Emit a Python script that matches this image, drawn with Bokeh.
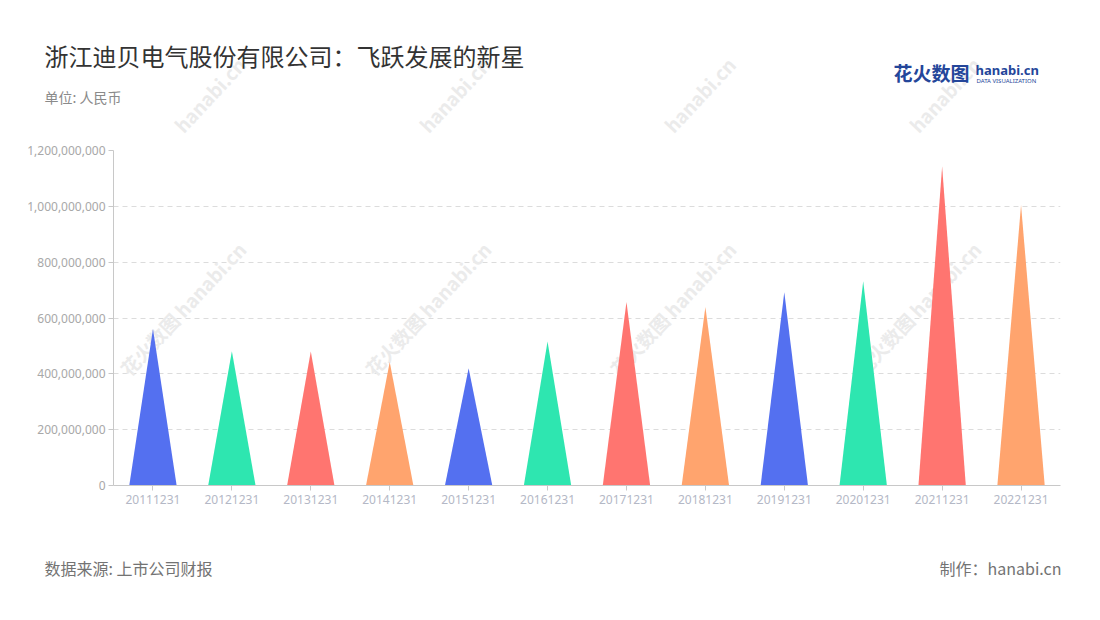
from bokeh.plotting import figure
from bokeh.layouts import column, row
from bokeh.models import Label, FixedTicker, NumeralTickFormatter, Range1d
from bokeh.embed import file_html
from bokeh.resources import INLINE

categories = ["20111231", "20121231", "20131231", "20141231", "20151231", "20161231",
              "20171231", "20181231", "20191231", "20201231", "20211231", "20221231"]
values = [561000000, 481000000, 480000000, 442000000, 420000000, 516000000,
          657000000, 639000000, 692000000, 732000000, 1143000000, 1005000000]
palette = ["#5470F0", "#2EE6B0", "#FF7570", "#FFA46E"]
y_ticks = [0, 200000000, 400000000, 600000000, 800000000, 1000000000, 1200000000]

title_text = "浙江迪贝电气股份有限公司：飞跃发展的新星"
unit_text = "单位: 人民币"
source_text = "数据来源: 上市公司财报"
maker_text = "制作：hanabi.cn"

W = 1100
HEAD_H, MAIN_H, FOOT_H = 142, 378, 100
CJK = "Noto Sans CJK SC"
WM_COLOR = "#ebebeb"
wm_x = [182, 427, 672, 917]


def blank_fig(h, top):
    f = figure(width=W, height=h, output_backend="svg", toolbar_location=None,
               x_range=Range1d(0, W), y_range=Range1d(top + h, top),
               x_axis_type=None, y_axis_type=None, min_border=0)
    f.outline_line_color = None
    f.grid.grid_line_color = None
    return f


def add_wm(f, x, y, text, units="data"):
    f.add_layout(Label(x=x, y=y, x_units=units, y_units=units,
                       text=text, angle=47, angle_units="deg",
                       text_align="center", text_baseline="middle",
                       text_font=CJK, text_font_size="19px", text_font_style="bold",
                       text_color=WM_COLOR, level="underlay"))


def add_text(f, x, y, text, size, color, align="left", font=CJK, style="normal"):
    f.add_layout(Label(x=x, y=y, text=text, text_align=align, text_baseline="middle",
                       text_font=font, text_font_size=size, text_color=color,
                       text_font_style=style))


# ---------- header ----------
head = blank_fig(HEAD_H, 0)
for wx in wm_x:
    add_wm(head, wx + 27, 94, "hanabi.cn")
add_text(head, 44, 55, title_text, "24px", "#333333")
add_text(head, 44, 96, unit_text, "14px", "#8a8a8a")
add_text(head, 893, 72, "花火数图", "19px", "#24469A", style="bold")
add_text(head, 975, 69, "hanabi.cn", "13px", "#24469A", font="Noto Sans", style="bold")
add_text(head, 976, 80, "DATA VISUALIZATION", "6px", "#24469A", font="Noto Sans")

# ---------- main chart ----------
FR_L, FR_T, FR_R, FR_B = 113, 150, 1060, 485
p = figure(width=W, height=MAIN_H, output_backend="svg", toolbar_location=None,
           x_range=Range1d(0, len(categories)), y_range=Range1d(0, 1200000000),
           min_border_left=FR_L, min_border_right=W - FR_R,
           min_border_top=FR_T - HEAD_H, min_border_bottom=HEAD_H + MAIN_H - FR_B)
p.outline_line_color = None
for wx in wm_x:
    add_wm(p, wx - FR_L, FR_B - 308, "花火数图 hanabi.cn", units="screen")

xs, ys, cols = [], [], []
half = 0.3
for i, v in enumerate(values):
    c = i + 0.5
    xs.append([c - half, c, c + half])
    ys.append([0, v, 0])
    cols.append(palette[i % len(palette)])
p.patches(xs=xs, ys=ys, fill_color=cols, line_color=None)

p.xaxis.ticker = FixedTicker(ticks=[i + 0.5 for i in range(len(categories))])
p.xaxis.major_label_overrides = {i + 0.5: c for i, c in enumerate(categories)}
p.xaxis.minor_tick_line_color = None
p.xaxis.axis_line_color = "#c8c8c8"
p.xaxis.major_tick_line_color = "#c8c8c8"
p.xaxis.major_tick_out = 5
p.xaxis.major_tick_in = 0
p.xaxis.major_label_text_color = "#b4b8c6"
p.xaxis.major_label_text_font = "Noto Sans"
p.xaxis.major_label_text_font_size = "12px"
p.xaxis.major_label_standoff = 4

p.yaxis.ticker = FixedTicker(ticks=y_ticks)
p.yaxis.formatter = NumeralTickFormatter(format="0,0")
p.yaxis.minor_tick_line_color = None
p.yaxis.axis_line_color = "#c8c8c8"
p.yaxis.major_tick_line_color = "#c8c8c8"
p.yaxis.major_tick_out = 5
p.yaxis.major_tick_in = 0
p.yaxis.major_label_text_color = "#a8a8a8"
p.yaxis.major_label_text_font = "Noto Sans"
p.yaxis.major_label_text_font_size = "12px"
p.yaxis.major_label_standoff = 3

p.xgrid.grid_line_color = None
p.ygrid.grid_line_color = "#dcdcdc"
p.ygrid.grid_line_dash = "5 4"
p.ygrid.ticker = FixedTicker(ticks=y_ticks[1:])

# ---------- footer ----------
foot = blank_fig(FOOT_H, HEAD_H + MAIN_H)
add_text(foot, 44, 567, source_text, "16px", "#737373")
add_text(foot, 1061, 567, maker_text, "16px", "#737373", align="right")

layout = column(row(head), p, row(foot), spacing=0)
open("out.html", "w").write(file_html(layout, INLINE))
